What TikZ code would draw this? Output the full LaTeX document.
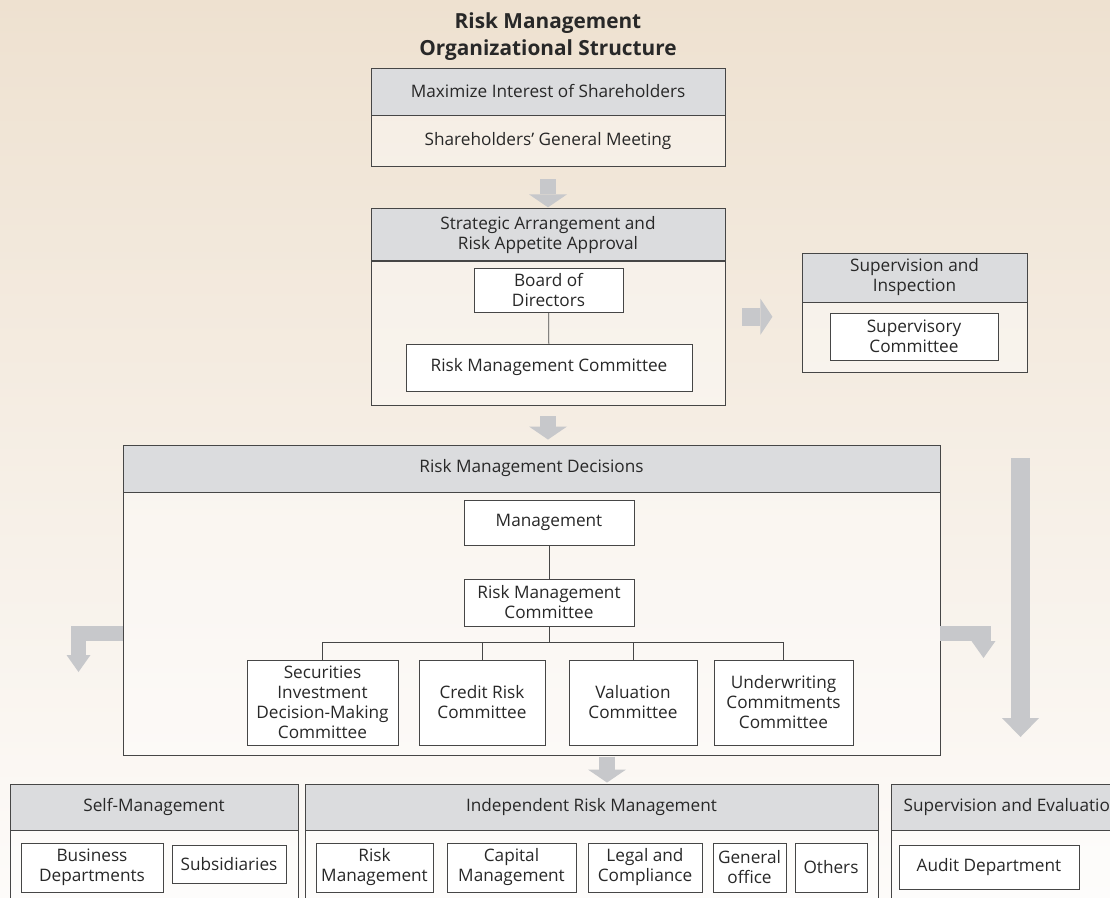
\documentclass[tikz,border=0pt]{standalone}
\usepackage{fontspec}
\setmainfont{Open Sans}
\usetikzlibrary{arrows.meta,positioning}

\definecolor{headgray}{RGB}{219,220,222}
\definecolor{arrowgray}{RGB}{199,200,203}
\definecolor{linegray}{RGB}{70,70,70}
\definecolor{textgray}{RGB}{40,40,40}
\definecolor{bgtop}{RGB}{238,225,208}
\definecolor{bgmid}{RGB}{248,242,235}
\definecolor{bgbot}{RGB}{253,251,249}

\begin{document}
\begin{tikzpicture}[x=1pt, y=-1pt,
		basic/.style  = {draw=linegray, line width=0.9pt, inner sep=0pt, align=center, text=textgray, font=\fontsize{17.2}{20}\selectfont},
		head/.style   = {basic, fill=headgray},
		body/.style   = {basic, fill=white, fill opacity=0.4, text opacity=1},
		unit/.style   = {basic, fill=white},
		title/.style  = {align=center, text=textgray, font=\fontsize{20.8}{27}\selectfont\bfseries},
		fatarrow/.style  = {draw=arrowgray, line width=16pt, -{Triangle[length=13pt, width=38pt, line width=0pt]}},
		bentarrow/.style = {draw=arrowgray, line width=15pt, line join=miter, -{Triangle[length=17pt, width=24pt, line width=0pt]}},
		link/.style   = {draw=linegray, line width=0.8pt}]
		
		% background
		\shade[top color=bgtop, middle color=bgmid, bottom color=bgbot] (0,0) rectangle (1110,897);
		\useasboundingbox (0,0) rectangle (1110,897);
		
		% title and shareholders
		\node[title] (title) at (548,36.5) {Risk Management\\Organizational Structure};
		\node[head, minimum width=354pt, minimum height=47pt] (h1) at (548,91.5) {Maximize Interest of Shareholders};
		\node[body, below=0pt of h1, minimum width=354pt, minimum height=51pt] (b1) {Shareholders’ General Meeting};
		
		% board level
		\node[head, below=41pt of b1, minimum width=354pt, minimum height=52pt] (h2) {Strategic Arrangement and\\Risk Appetite Approval};
		\node[body, below=0pt of h2, minimum width=354pt, minimum height=144pt] (b2) {};
		\node[unit, minimum width=149pt, minimum height=44pt] (bod) at (548.5,290) {Board of\\Directors};
		\node[unit, minimum width=286pt, minimum height=47pt] (rmc1) at (549,367.5) {Risk Management Committee};
		
		% supervision
		\node[head, minimum width=225pt, minimum height=49pt] (h3) at (914.5,277.5) {Supervision and\\Inspection};
		\node[body, below=0pt of h3, minimum width=225pt, minimum height=70pt] (b3) {};
		\node[unit, minimum width=168pt, minimum height=47pt] (sup) at (914,336.5) {Supervisory\\Committee};
		
		% management level
		\node[head, minimum width=817pt, minimum height=47pt] (h4) at (531.5,468.5) {Risk Management Decisions};
		\node[body, below=0pt of h4, minimum width=817pt, minimum height=263pt] (b4) {};
		\node[unit, minimum width=170pt, minimum height=45pt] (mgmt) at (549,522.5) {Management};
		\node[unit, minimum width=170pt, minimum height=47pt] (rmc2) at (549,602.5) {Risk Management\\Committee};
		
		% the committees under the management committee
		\begin{scope}[every node/.style={unit, minimum height=85pt}]
		\node[minimum width=151pt] (sec) at (322.5,702.5) {Securities\\Investment\\Decision-Making\\Committee};
		\node[minimum width=126pt] (cred) at (482,702.5) {Credit Risk\\Committee};
		\node[minimum width=128pt] (val) at (633,702.5) {Valuation\\Committee};
		\node[minimum width=139pt] (und) at (783.5,702.5) {Underwriting\\Commitments\\Committee};
		\end{scope}
		
		% bottom row
		\node[head, minimum width=288pt, minimum height=46pt] (h5) at (154,807) {Self-Management};
		\node[body, below=0pt of h5, minimum width=288pt, minimum height=75pt] (b5) {};
		\node[head, minimum width=573pt, minimum height=46pt] (h6) at (591.5,807) {Independent Risk Management};
		\node[body, below=0pt of h6, minimum width=573pt, minimum height=75pt] (b6) {};
		\node[head, minimum width=241pt, minimum height=46pt] (h7) at (1012,807) {Supervision and Evaluation};
		\node[body, below=0pt of h7, minimum width=241pt, minimum height=75pt] (b7) {};
		
		\begin{scope}[every node/.style={unit, minimum height=49pt}]
		\node[minimum width=142pt] (bd) at (92,867.5) {Business\\Departments};
		\node[minimum width=114pt, minimum height=38pt] (subs) at (229,864) {Subsidiaries};
		\node[minimum width=117pt] (rm) at (374.5,867.5) {Risk\\Management};
		\node[minimum width=129pt] (cap) at (511.5,867.5) {Capital\\Management};
		\node[minimum width=114pt] (legal) at (645,867.5) {Legal and\\Compliance};
		\node[minimum width=73pt] (gen) at (749.5,867.5) {General\\office};
		\node[minimum width=72pt] (oth) at (831,867.5) {Others};
		\node[minimum width=180pt, minimum height=44pt] (audit) at (989,867) {Audit Department};
		\end{scope}
		
		% thin lines inside the boxes
		\draw[link] (bod) -- (rmc1);
		\draw[link] (mgmt) -- (rmc2);
		\foreach \c in {sec,cred,val,und}
		\draw[link] (rmc2.south) |- ([yshift=17pt]\c.north) -- (\c.north);
		
		% gray arrows between the levels
		\coordinate (lefttip) at (78.5,672);
		\coordinate (righttip) at (983.5,658);
		\coordinate (longtop) at (1020.5,458);
		\coordinate (longtip) at (1020.5,737);
		\draw[fatarrow] ([yshift=-12pt]b1.south) -- ([yshift=1pt]h2.north);
		\draw[fatarrow, line width=18pt, -{Triangle[length=12pt, width=36pt, line width=0pt]}] ([xshift=17pt,yshift=17pt]b2.east) -- ([xshift=47pt,yshift=17pt]b2.east);
		\draw[fatarrow] ([yshift=-10pt]b2.south) -- ([yshift=5pt]b2.south |- h4.north);
		\draw[fatarrow] ([xshift=15.5pt,yshift=27pt]h6.north) -- ([xshift=15.5pt,yshift=1pt]h6.north);
		\draw[bentarrow] ([yshift=-9pt]b4.west) -| (lefttip);
		\draw[bentarrow] ([yshift=-9pt]b4.east) -| (righttip);
		\draw[fatarrow, line width=19pt, -{Triangle[length=19pt, width=37pt, line width=0pt]}] (longtop) -- (longtip);
		
\end{tikzpicture}
\end{document}
